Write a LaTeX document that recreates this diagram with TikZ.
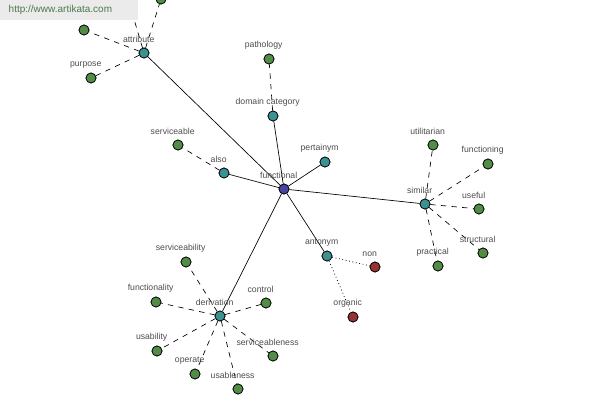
\documentclass[tikz,border=0pt]{standalone}
\usepackage{fontspec}
\setmainfont{Liberation Sans}
\definecolor{gcol}{RGB}{82,140,70}
\definecolor{tcol}{RGB}{60,145,145}
\definecolor{bcol}{RGB}{70,70,160}
\definecolor{rcol}{RGB}{150,50,50}
\begin{document}
\begin{tikzpicture}[x=0.75pt,y=-0.75pt,
  dot/.style={circle,draw=black,line width=0.5pt,minimum size=7.5pt,inner sep=0pt},
  gn/.style={dot,fill=gcol},
  tn/.style={dot,fill=tcol},
  bn/.style={dot,fill=bcol},
  rn/.style={dot,fill=rcol},
  lab/.style={font=\fontsize{6.5}{7}\selectfont,text=black!70},
  sol/.style={line width=0.5pt},
  das/.style={line width=0.5pt,dashed,dash pattern=on 4pt off 4pt},
  dot2/.style={line width=0.6pt,dotted}]
\useasboundingbox (0,0) rectangle (600,400);
\clip (0,0) rectangle (600,400);
\node[bn] (functional) at (284,189) {};
\node[tn] (attribute) at (144,53) {};
\node[tn] (also) at (224,173) {};
\node[tn] (domain) at (273,116) {};
\node[tn] (pertainym) at (325,162) {};
\node[tn] (similar) at (425,204) {};
\node[tn] (antonym) at (327,256) {};
\node[tn] (derivation) at (220,316) {};
\node[gn] (function) at (84,30) {};
\node[gn] (purpose) at (91,78) {};
\node[gn] (top) at (161,-1) {};
\coordinate (topl) at (126,-8);
\node[gn] (serviceable) at (178,145) {};
\node[gn] (pathology) at (269,59) {};
\node[gn] (utilitarian) at (433,145) {};
\node[gn] (functioning) at (488,164) {};
\node[gn] (useful) at (479,209) {};
\node[gn] (structural) at (483,253) {};
\node[gn] (practical) at (438,266) {};
\node[gn] (serviceability) at (186,262) {};
\node[gn] (functionality) at (156,302) {};
\node[gn] (control) at (266,303) {};
\node[gn] (usability) at (157,351) {};
\node[gn] (operate) at (195,374) {};
\node[gn] (usableness) at (238,389) {};
\node[gn] (serviceableness) at (273,356) {};
\node[rn] (non) at (375,267) {};
\node[rn] (organic) at (353,317) {};
% edges
\foreach \n in {attribute,also,domain,pertainym,similar,antonym,derivation}
  \draw[sol] (functional) -- (\n);
\foreach \n in {function,purpose,top} \draw[das] (attribute) -- (\n);
\draw[das] (attribute) -- (topl);
\draw[das] (also) -- (serviceable);
\draw[das] (domain) -- (pathology);
\foreach \n in {utilitarian,functioning,useful,structural,practical} \draw[das] (similar) -- (\n);
\foreach \n in {serviceability,functionality,control,usability,operate,usableness,serviceableness} \draw[das] (derivation) -- (\n);
\draw[dot2] (antonym) -- (non);
\draw[dot2] (antonym) -- (organic);
% redraw nodes on top
\foreach \n/\s in {functional/bn,attribute/tn,also/tn,domain/tn,pertainym/tn,similar/tn,antonym/tn,derivation/tn,
 function/gn,purpose/gn,top/gn,serviceable/gn,pathology/gn,utilitarian/gn,functioning/gn,useful/gn,structural/gn,practical/gn,
 serviceability/gn,functionality/gn,control/gn,usability/gn,operate/gn,usableness/gn,serviceableness/gn,non/rn,organic/rn}
  \node[\s] at (\n) {};
% labels
\foreach \n/\t in {functional/functional,attribute/attribute,also/also,domain/domain category,pertainym/pertainym,
 similar/similar,antonym/antonym,derivation/derivation,function/function,purpose/purpose,serviceable/serviceable,
 pathology/pathology,utilitarian/utilitarian,functioning/functioning,useful/useful,structural/structural,practical/practical,
 serviceability/serviceability,functionality/functionality,control/control,usability/usability,operate/operate,
 usableness/usableness,serviceableness/serviceableness,non/non,organic/organic}
  \node[lab,anchor=south] at ([xshift=-4pt,yshift=4pt]\n) {\t};
% watermark
\fill[black!8] (0,0) rectangle (138,20);
\node[anchor=west,font=\fontsize{7.5}{8}\selectfont,text=green!25!black!70] (wm) at (4,10) {http://www.artikata.com};
\end{tikzpicture}
\end{document}
